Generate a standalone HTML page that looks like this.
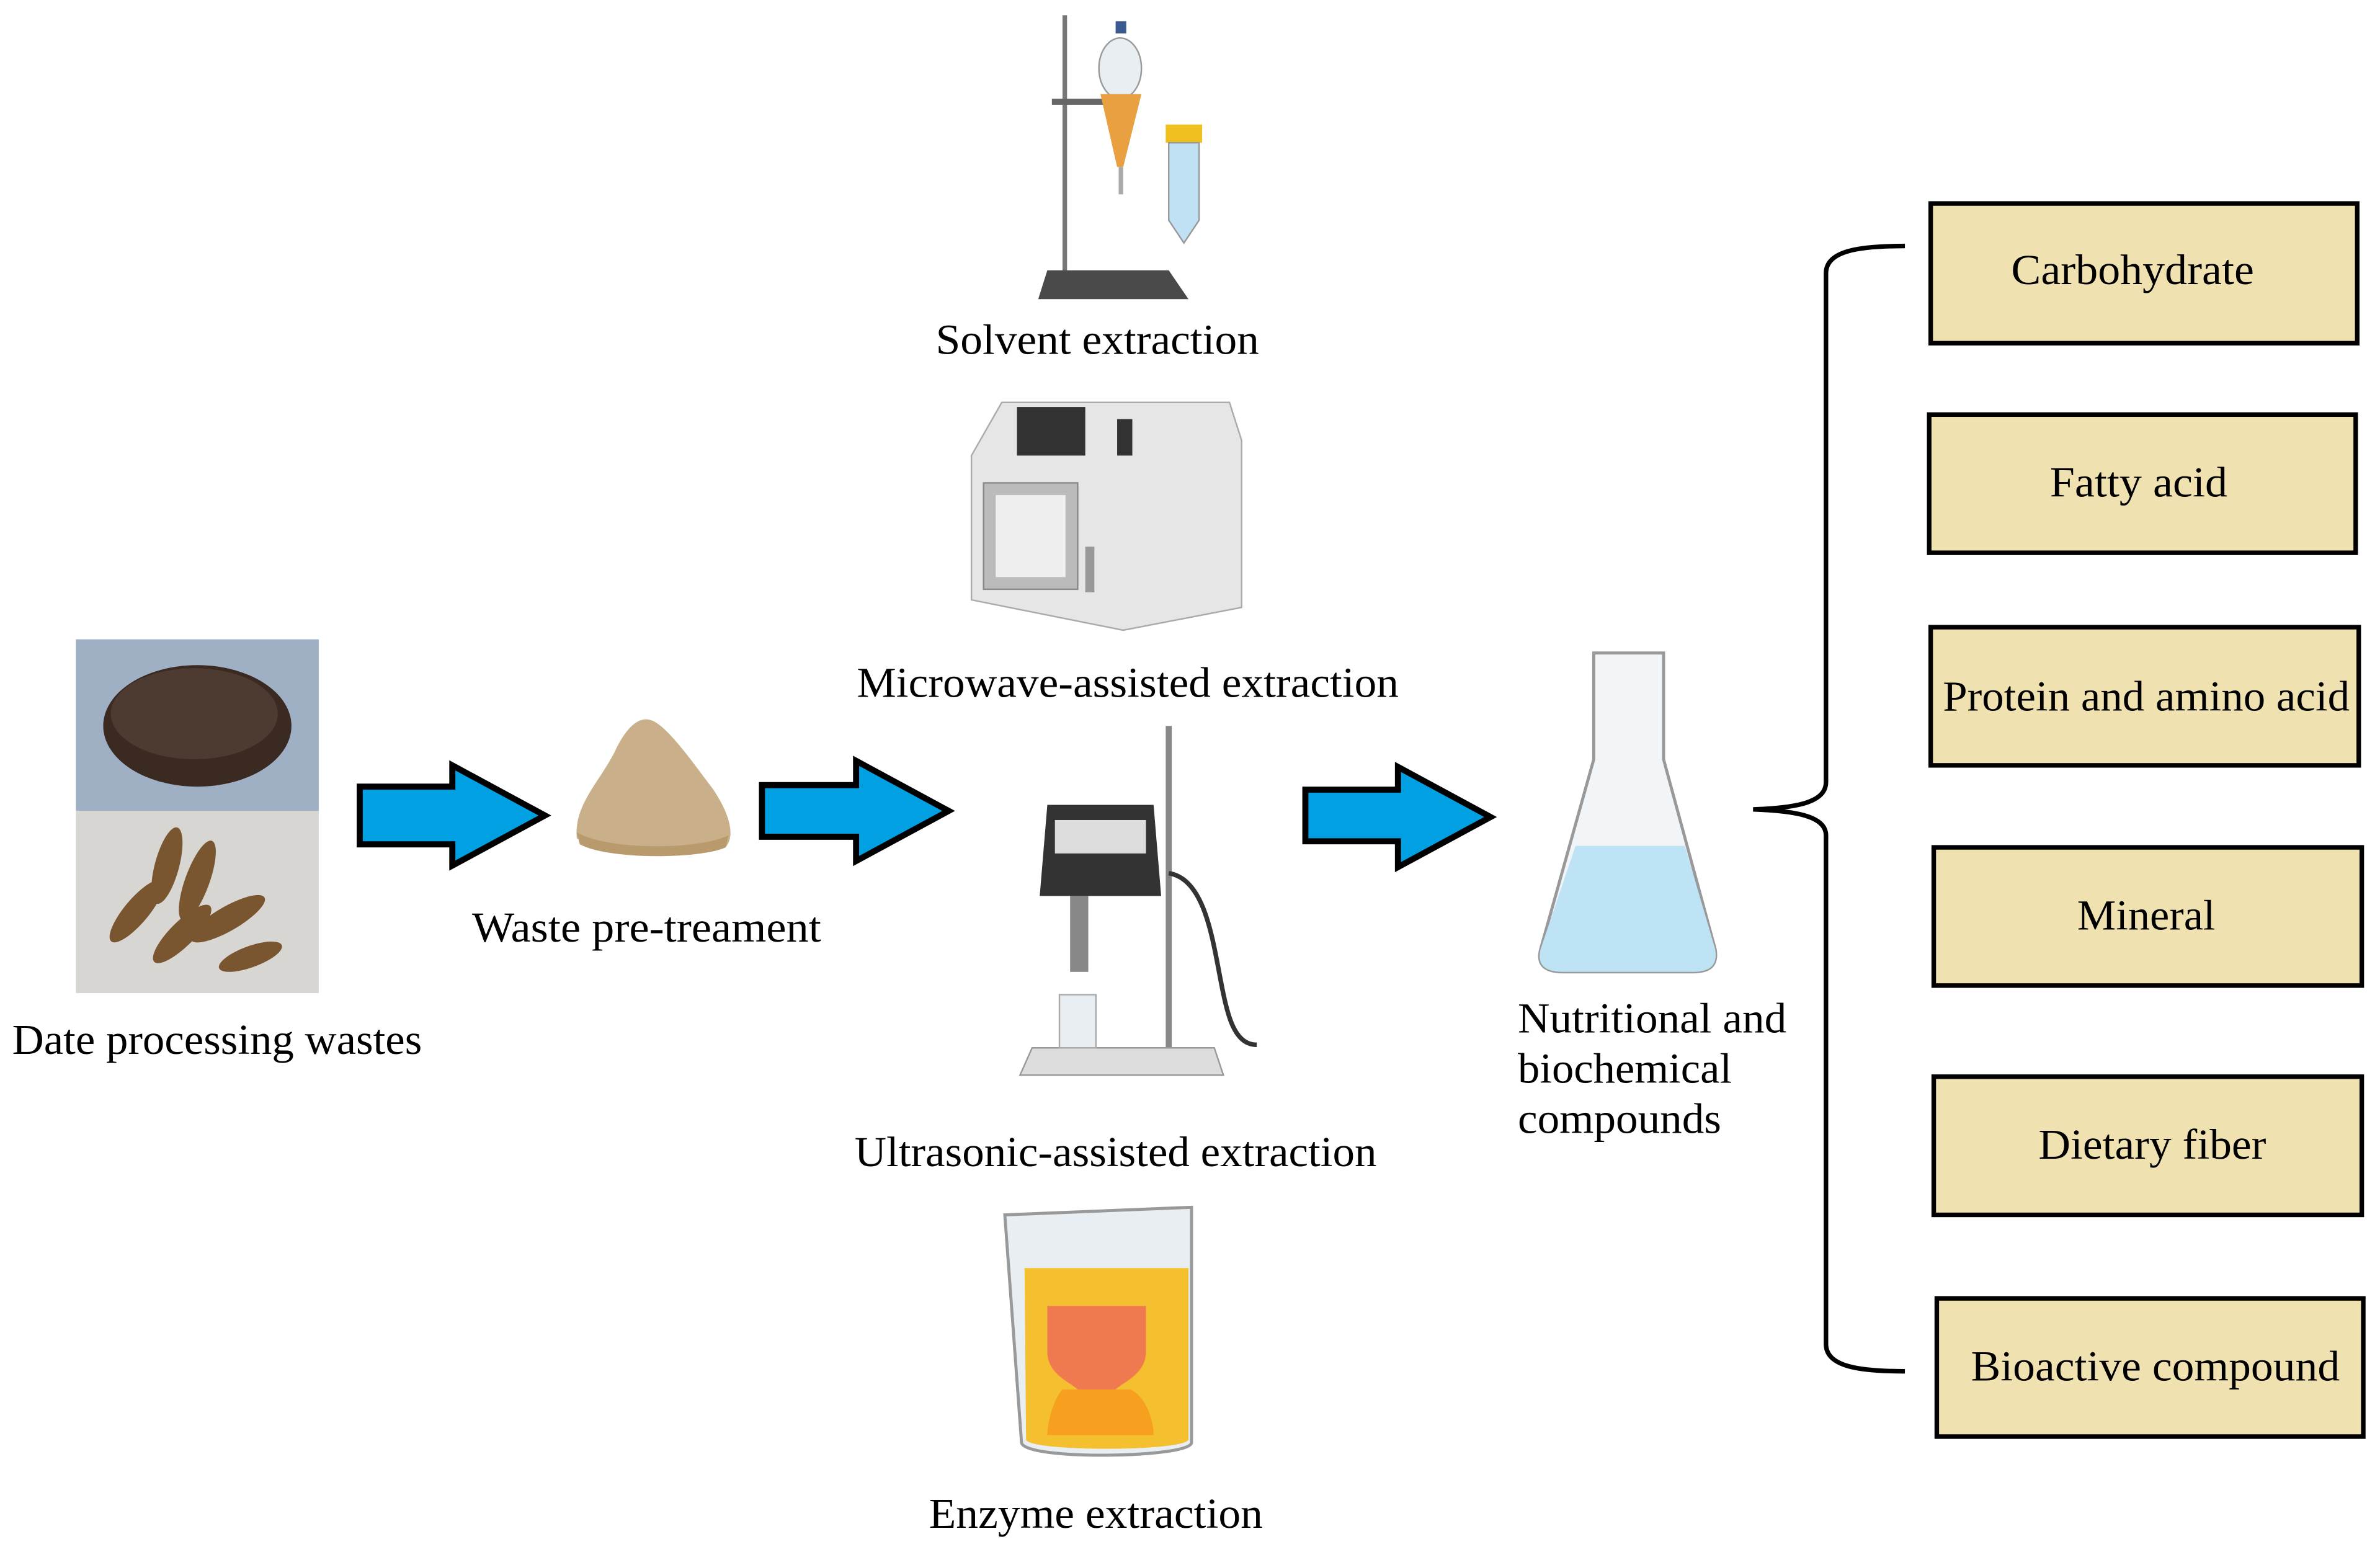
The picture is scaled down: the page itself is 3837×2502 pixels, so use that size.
<!DOCTYPE html>
<html><head><meta charset="utf-8"><style>
html,body{margin:0;padding:0;background:#fff;width:3837px;height:2502px;overflow:hidden}
svg{display:block}
text{font-family:"Liberation Serif",serif;fill:#000}
</style></head><body>
<svg width="3837" height="2502" viewBox="0 0 1568 1022" preserveAspectRatio="none">
<rect width="1568" height="1022" fill="#fff"/>
<!-- photo -->
<rect x="50" y="421" width="160" height="113" fill="#9fb0c4"/>
<ellipse cx="130" cy="478" rx="62" ry="40" fill="#3a2a22"/>
<ellipse cx="128" cy="470" rx="55" ry="30" fill="#4d3a30"/>
<rect x="50" y="534" width="160" height="120" fill="#d8d6d2"/>
<g fill="#7a5630">
<ellipse cx="110" cy="570" rx="8" ry="26" transform="rotate(15 110 570)"/>
<ellipse cx="130" cy="580" rx="8" ry="28" transform="rotate(20 130 580)"/>
<ellipse cx="90" cy="600" rx="8" ry="26" transform="rotate(40 90 600)"/>
<ellipse cx="150" cy="605" rx="8" ry="28" transform="rotate(60 150 605)"/>
<ellipse cx="120" cy="615" rx="8" ry="26" transform="rotate(45 120 615)"/>
<ellipse cx="165" cy="630" rx="7" ry="22" transform="rotate(70 165 630)"/>
</g>
<text x="143" y="694" font-size="28" textLength="270" lengthAdjust="spacingAndGlyphs" text-anchor="middle">Date processing wastes</text>
<!-- arrows -->
<g fill="#00a0e3" stroke="#000" stroke-width="4" stroke-linejoin="miter">
<polygon points="237,518 298,518 298,504 359,537 298,570 298,556 237,556"/>
<polygon points="502,517 564,517 564,501 625,534 564,567 564,551 502,551"/>
<polygon points="860,520 921,520 921,505 982,538 921,571 921,554 860,554"/>
</g>
<!-- pile -->
<path d="M380,552 C378,530 395,515 405,495 C412,480 420,472 428,474 C438,476 455,500 470,520 C480,535 485,550 478,558 C460,566 400,566 380,552 Z" fill="#c9b08a"/>
<path d="M380,548 C400,560 460,560 480,550 L478,558 C460,566 400,566 382,556 Z" fill="#b99a6c"/>
<text x="426" y="620" font-size="28" textLength="230" lengthAdjust="spacingAndGlyphs" text-anchor="middle">Waste pre-treament</text>
<!-- solvent -->
<rect x="700" y="10" width="3" height="180" fill="#777"/>
<polygon points="690,178 770,178 783,197 684,197" fill="#4a4a4a"/>
<rect x="693" y="65" width="50" height="4" fill="#666"/>
<ellipse cx="738" cy="45" rx="14" ry="20" fill="#e8eef2" stroke="#999"/>
<polygon points="725,62 752,62 740,110 736,110" fill="#e8a040"/>
<rect x="735" y="14" width="7" height="8" fill="#3a5a90"/>
<rect x="737" y="110" width="3" height="18" fill="#aaa"/>
<rect x="768" y="82" width="24" height="12" fill="#f0c020"/>
<path d="M770,94 L790,94 L790,145 L780,160 L770,145 Z" fill="#bfe1f3" stroke="#999"/>
<text x="723" y="233" font-size="28" textLength="213" lengthAdjust="spacingAndGlyphs" text-anchor="middle">Solvent extraction</text>
<!-- microwave -->
<path d="M640,300 L660,265 L810,265 L818,290 L818,400 L740,415 L640,395 Z" fill="#e6e6e6" stroke="#aaa"/>
<rect x="670" y="268" width="45" height="32" fill="#333"/>
<rect x="736" y="276" width="10" height="24" fill="#333"/>
<rect x="648" y="318" width="62" height="70" fill="#bbb" stroke="#888"/>
<rect x="656" y="326" width="46" height="54" fill="#eee"/>
<rect x="715" y="360" width="6" height="30" fill="#999"/>
<text x="743" y="459" font-size="28" textLength="357" lengthAdjust="spacingAndGlyphs" text-anchor="middle">Microwave-assisted extraction</text>
<!-- ultrasonic -->
<rect x="768" y="478" width="4" height="222" fill="#888"/>
<polygon points="680,690 800,690 806,708 672,708" fill="#ddd" stroke="#999"/>
<path d="M690,530 L760,530 L765,590 L685,590 Z" fill="#333"/>
<rect x="695" y="540" width="60" height="22" fill="#ddd"/>
<rect x="705" y="590" width="12" height="50" fill="#888"/>
<rect x="698" y="655" width="24" height="35" fill="#e8eef2" stroke="#aaa"/>
<path d="M770,575 C800,580 800,640 810,670 C815,685 822,688 828,688" fill="none" stroke="#333" stroke-width="3"/>
<text x="735" y="768" font-size="28" textLength="344" lengthAdjust="spacingAndGlyphs" text-anchor="middle">Ultrasonic-assisted extraction</text>
<!-- beaker -->
<path d="M662,800 L785,795 L785,950 C785,960 675,962 673,950 Z" fill="#e8eef2" stroke="#999" stroke-width="2"/>
<path d="M675,835 L783,835 L783,948 C780,956 678,956 676,948 Z" fill="#f4c030"/>
<path d="M690,860 L755,860 L755,890 C755,905 740,910 735,915 L710,915 C705,910 690,905 690,890 Z" fill="#f07a50"/>
<path d="M700,915 L745,915 C755,920 760,935 760,945 L690,945 C690,935 695,920 700,915 Z" fill="#f7a020"/>
<text x="722" y="1006" font-size="28" textLength="220" lengthAdjust="spacingAndGlyphs" text-anchor="middle">Enzyme extraction</text>
<!-- flask -->
<path d="M1050,430 L1096,430 L1096,500 L1130,625 C1132,637 1125,640 1115,640 L1030,640 C1020,640 1012,637 1015,625 L1050,500 Z" fill="#f2f5f7" stroke="#999" stroke-width="2"/>
<path d="M1038,557 L1110,557 L1130,625 C1132,637 1125,640 1115,640 L1030,640 C1020,640 1012,637 1015,625 Z" fill="#bde3f4"/>
<text x="1000" y="680" font-size="28" textLength="177" lengthAdjust="spacingAndGlyphs">Nutritional and</text>
<text x="1000" y="713" font-size="28" textLength="141" lengthAdjust="spacingAndGlyphs">biochemical</text>
<text x="1000" y="746" font-size="28" textLength="134" lengthAdjust="spacingAndGlyphs">compounds</text>
<!-- bracket -->
<path d="M1255,162 C1225,162 1203,165 1203,180 L1203,515 C1203,528 1185,532 1155,533 C1185,534 1203,538 1203,550 L1203,885 C1203,900 1225,903 1255,903" fill="none" stroke="#000" stroke-width="3"/>
<!-- boxes -->
<g fill="#f0e2b0" stroke="#000" stroke-width="3">
<rect x="1272" y="134" width="281" height="92"/>
<rect x="1271" y="273" width="281" height="91"/>
<rect x="1272" y="413" width="282" height="91"/>
<rect x="1274" y="558" width="282" height="91"/>
<rect x="1274" y="709" width="282" height="91"/>
<rect x="1276" y="855" width="281" height="91"/>
</g>
<g font-size="28" text-anchor="middle" lengthAdjust="spacingAndGlyphs">
<text x="1405" y="187" textLength="160" lengthAdjust="spacingAndGlyphs">Carbohydrate</text>
<text x="1409" y="327" textLength="117" lengthAdjust="spacingAndGlyphs">Fatty acid</text>
<text x="1414" y="468" textLength="268" lengthAdjust="spacingAndGlyphs">Protein and amino acid</text>
<text x="1414" y="612" textLength="91" lengthAdjust="spacingAndGlyphs">Mineral</text>
<text x="1418" y="763" textLength="150" lengthAdjust="spacingAndGlyphs">Dietary fiber</text>
<text x="1420" y="909" textLength="243" lengthAdjust="spacingAndGlyphs">Bioactive compound</text>
</g>
</svg>
</body></html>
